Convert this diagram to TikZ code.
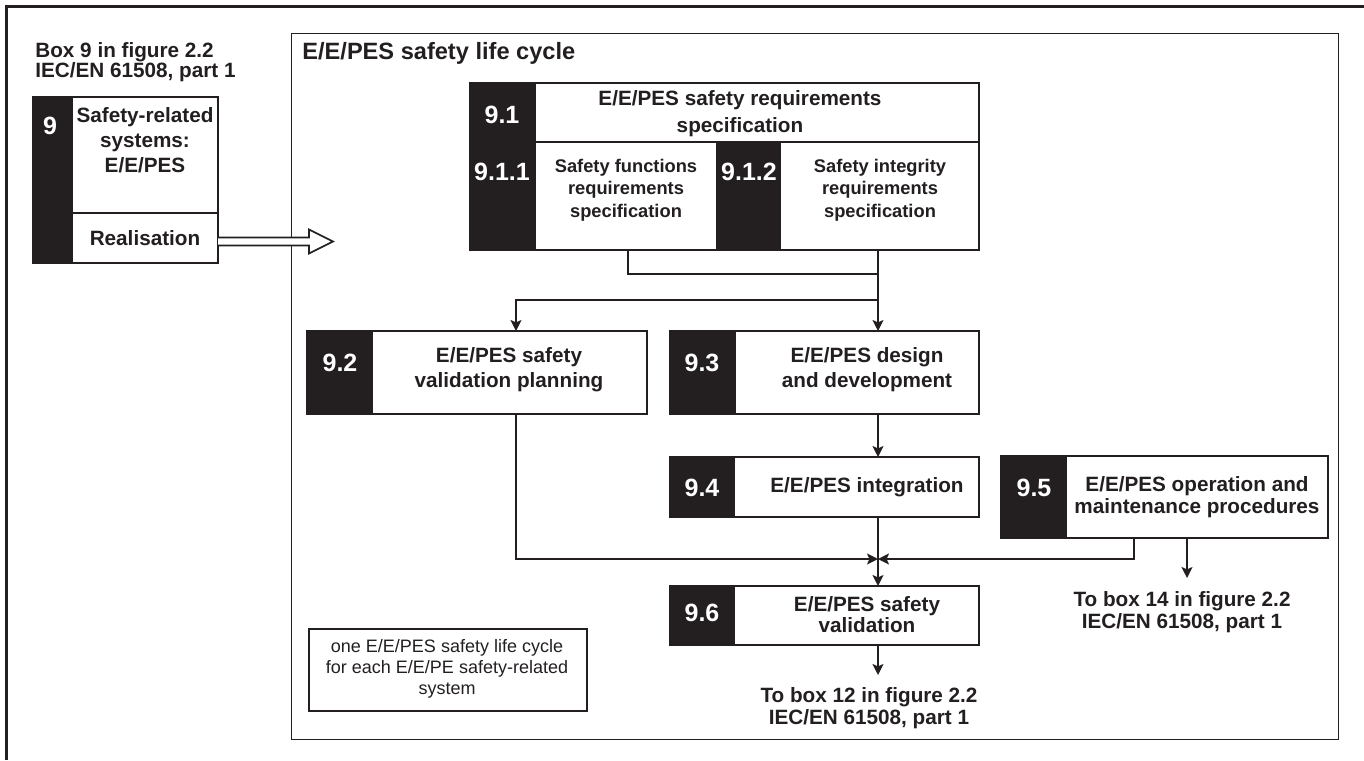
\documentclass[tikz,border=0pt]{standalone}
\usepackage{fontspec}
\setmainfont{Liberation Sans}
\usetikzlibrary{arrows.meta,calc}
\definecolor{ink}{HTML}{231F20}
\begin{document}
\begin{tikzpicture}[x=0.5pt,y=-0.5pt,
  kbox/.style={fill=ink,draw=ink,line width=1pt,anchor=north west,inner sep=0pt,outer sep=0pt},
  wbox/.style={fill=white,draw=ink,line width=1pt,anchor=north west,inner sep=0pt,outer sep=0pt},
  num/.style={text=white,font=\bfseries\fontsize{12.5}{14}\selectfont,inner sep=0pt},
  txt/.style={text=ink,align=center,font=\bfseries\fontsize{10.35}{12.5}\selectfont,inner sep=0pt},
  stxt/.style={text=ink,align=center,font=\bfseries\fontsize{9.15}{11.25}\selectfont,inner sep=0pt},
  conn/.style={draw=ink,line width=0.7pt},
  arr/.style={conn,-{Stealth[length=5.5pt,width=5.5pt,inset=1.2pt]}}]
\useasboundingbox (0,0) rectangle (1364,760);
% outer partial frame
\draw[ink,line width=1.6pt] (6.5,760) -- (6.5,6.5) -- (1364,6.5);
% life cycle frame
\node[draw=ink,line width=0.7pt,anchor=north west,inner sep=0pt,minimum width=523.5pt,minimum height=353pt] (frame) at (291,33) {};
\node[anchor=west,inner sep=0pt,text=ink,font=\bfseries\fontsize{11.8}{14}\selectfont] (title) at (302,53) {E/E/PES safety life cycle};

% box 9
\node[anchor=west,inner sep=0pt,align=left,text=ink,font=\bfseries\fontsize{10.35}{9.75}\selectfont] (hdr) at (35,62) {Box 9 in figure 2.2\\IEC/EN 61508, part 1};
\node[kbox,minimum width=19.5pt,minimum height=83pt] (b9k) at (33,97) {};
\node[wbox,minimum width=73pt,minimum height=58pt] (b9w) at (72,97) {};
\node[wbox,minimum width=73pt,minimum height=25pt] (b9r) at (72,213) {};
\node[num] (n9) at (50,126) {9};
\node[txt] (t9) at (145,140) {Safety-related\\systems:\\E/E/PES};
\node[txt] (t9r) at (145,238) {Realisation};
\draw[ink,line width=0.8pt,fill=white] (b9r.east) ++(0,-0.5) -- ++(91,0) -- ++(0,-8) -- ++(24,12) -- ++(-24,12) -- ++(0,-8) -- ++(-91,0);

% 9.1
\node[kbox,minimum width=32.5pt,minimum height=83.5pt] (k91) at (470,83) {};
\node[wbox,minimum width=222pt,minimum height=29.5pt] (w91) at (535,83) {};
\node[wbox,minimum width=91pt,minimum height=54pt] (w911) at (535,142) {};
\node[kbox,minimum width=31.5pt,minimum height=54pt] (k912) at (717,142) {};
\node[wbox,minimum width=99.5pt,minimum height=54pt] (w912) at (780,142) {};
\node[num] (n91) at (502,115) {9.1};
\node[num] (n911) at (502,172) {9.1.1};
\node[num] (n912) at (749,172) {9.1.2};
\node[txt,font=\bfseries\fontsize{10.35}{13.5}\selectfont] (t91) at (740,114) {E/E/PES safety requirements\\specification};
\node[stxt] (t911) at (626,190) {Safety functions\\requirements\\specification};
\node[stxt] (t912) at (880,190) {Safety integrity\\requirements\\specification};

% 9.2 / 9.3
\node[kbox,minimum width=32.5pt,minimum height=41.5pt] (k92) at (307,331) {};
\node[wbox,minimum width=137.5pt,minimum height=41.5pt] (w92) at (372,331) {};
\node[num] (n92) at (340,363) {9.2};
\node[txt] (t92) at (509,370) {E/E/PES safety\\validation planning};
\node[kbox,minimum width=32.5pt,minimum height=41.5pt] (k93) at (670,331) {};
\node[wbox,minimum width=122pt,minimum height=41.5pt] (w93) at (735,331) {};
\node[num] (n93) at (702,363) {9.3};
\node[txt] (t93) at (867,370) {E/E/PES design\\and development};

% 9.4 / 9.5
\node[kbox,minimum width=32pt,minimum height=30pt] (k94) at (670,457) {};
\node[wbox,minimum width=122.5pt,minimum height=30pt] (w94) at (734,457) {};
\node[num] (n94) at (702,488) {9.4};
\node[txt] (t94) at (867,487) {E/E/PES integration};
\node[kbox,minimum width=32.5pt,minimum height=41pt] (k95) at (1001,456) {};
\node[wbox,minimum width=131pt,minimum height=41pt] (w95) at (1066,456) {};
\node[num] (n95) at (1034,488) {9.5};
\node[txt,font=\bfseries\fontsize{10.35}{11}\selectfont] (t95) at (1197,497) {E/E/PES operation and\\maintenance procedures};

% 9.6
\node[kbox,minimum width=32pt,minimum height=29.5pt] (k96) at (670,586) {};
\node[wbox,minimum width=122.5pt,minimum height=29.5pt] (w96) at (734,586) {};
\node[num] (n96) at (702,613) {9.6};
\node[txt,font=\bfseries\fontsize{10.35}{10.5}\selectfont] (t96) at (867,615) {E/E/PES safety\\validation};

% outgoing texts
\node[txt,font=\bfseries\fontsize{10.35}{10.75}\selectfont] (o12) at (869,708) {To box 12 in figure 2.2\\IEC/EN 61508, part 1};
\node[txt,font=\bfseries\fontsize{10.35}{10.75}\selectfont] (o14) at (1182,612) {To box 14 in figure 2.2\\IEC/EN 61508, part 1};

% note
\node[draw=ink,line width=1pt,anchor=north west,inner sep=0pt,minimum width=139pt,minimum height=41pt] (note) at (308,628) {};
\node[text=ink,align=center,inner sep=0pt,font=\fontsize{9}{10.5}\selectfont] (tn) at (447,669) {one E/E/PES safety life cycle\\for each E/E/PE safety-related\\system};

% connectors
\coordinate (sp) at (878,274);
\coordinate (br) at (878,300);
\coordinate (lf) at (516,300);
\coordinate (jn) at (878,559);
\coordinate (r95) at (1134,0);
\coordinate (d95) at (1187,0);
\coordinate (e14) at (1187,578);
\coordinate (e12) at (878,675);
\draw[conn] (w911.south -| 628,0) |- (sp);
\draw[arr] (w912.south -| sp) -- (w93.north -| sp);
\draw[arr] (br) -| (w92.north -| lf);
\draw[arr] (w93.south -| sp) -- (w94.north -| sp);
\draw[arr] (w94.south -| sp) -- (w96.north -| sp);
\draw[arr] (w92.south -| lf) |- (jn);
\draw[arr] (w95.south -| r95) |- (jn);
\draw[arr] (w95.south -| d95) -- (e14);
\draw[arr] (w96.south -| sp) -- (e12);
\end{tikzpicture}
\end{document}
